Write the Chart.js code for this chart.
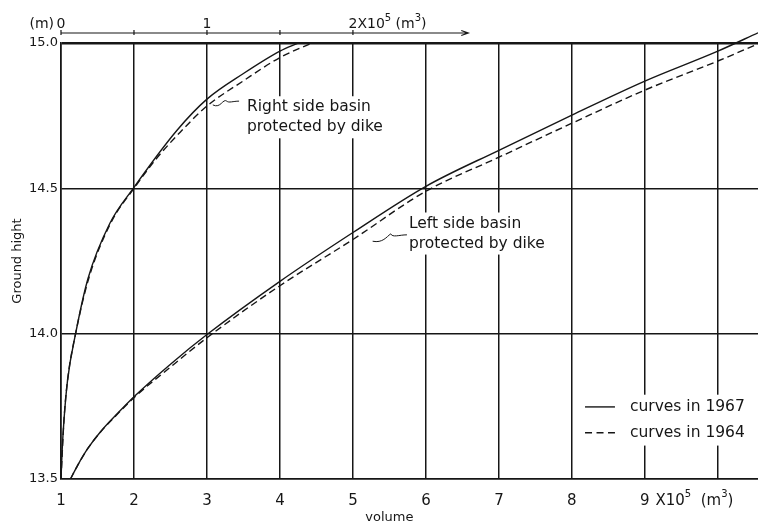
<!DOCTYPE html>
<html>
<head>
<meta charset="utf-8">
<script src="https://cdn.jsdelivr.net/npm/chart.js@4.4.1/dist/chart.umd.min.js"></script>
<style>
  html, body { margin: 0; padding: 0; background: #fff; }
</style>
</head>
<body>
<canvas id="chart" width="758" height="525"></canvas>
<script>
// bottom axis: volume (x10^5 m3), used by the left side basin
const xTickValues = [1, 2, 3, 4, 5, 6, 7, 8, 9, 10];
const xTickLabels = ['1', '2', '3', '4', '5', '6', '7', '8', '9', ''];
// ground height (m)
const yTickValues = [13.5, 14.0, 14.5, 15.0];
const yTickLabels = ['13.5', '14.0', '14.5', '15.0'];
// top axis: volume (x10^5 m3), used by the right side basin
const topTickValues = [0, 0.5, 1, 1.5, 2];
const topTickLabels = ['0', '', '1', '', '2'];

// left side basin, curves in 1967
const left1967Vol = [1.13, 1.23, 1.37, 1.55, 1.78, 2, 2.5, 3, 4, 5, 6, 7, 8, 9, 10, 10.55];
const left1967H   = [13.5, 13.548, 13.606, 13.665, 13.727, 13.783, 13.895, 13.997, 14.18, 14.348, 14.507, 14.631, 14.752, 14.869, 14.972, 15.035];
// left side basin, curves in 1964
const left1964Vol = [1.13, 1.23, 1.37, 1.55, 1.78, 2, 2.5, 3, 4, 5, 6, 7, 8, 9, 10, 10.55];
const left1964H   = [13.5, 13.548, 13.606, 13.664, 13.725, 13.78, 13.885, 13.986, 14.165, 14.324, 14.49, 14.607, 14.724, 14.838, 14.938, 14.997];
// right side basin, curves in 1967 (top axis)
const right1967Vol = [0, 0.008, 0.02, 0.045, 0.10, 0.185, 0.335, 0.495, 0.795, 1.0, 1.25, 1.5, 1.625];
const right1967H   = [13.5, 13.6, 13.7, 13.84, 14.0, 14.19, 14.38, 14.5, 14.70, 14.807, 14.895, 14.972, 15.0];
// right side basin, curves in 1964 (top axis)
const right1964Vol = [0, 0.02, 0.045, 0.10, 0.19, 0.34, 0.50, 0.65, 0.82, 1.0, 1.25, 1.5, 1.72];
const right1964H   = [13.5, 13.7, 13.84, 14.0, 14.19, 14.38, 14.5, 14.6, 14.695, 14.783, 14.87, 14.95, 15.0];

const legendLabels = ['curves in 1967', 'curves in 1964'];
const rightNote = ['Right side basin', 'protected by dike'];
const leftNote = ['Left side basin', 'protected by dike'];

const INK = '#161616';
const FONT = '"DejaVu Sans", sans-serif';

function pts(xs, ys) {
  return xs.map((x, i) => ({ x: x, y: ys[i] }));
}

// text with superscripts, parts = [[text, isSup], ...], left aligned
function drawParts(ctx, parts, x, y, size) {
  let cx = x;
  parts.forEach(([t, sup]) => {
    ctx.font = (sup ? Math.round(size * 0.68) : size) + 'px ' + FONT;
    ctx.fillText(t, cx, sup ? y - size * 0.42 : y);
    cx += ctx.measureText(t).width;
  });
}

function noteBox(ctx, lines, x, y1, y2, size) {
  ctx.font = size + 'px ' + FONT;
  const w = Math.max(...lines.map(l => ctx.measureText(l).width));
  ctx.fillRect(x - 4, y1 - 11, w + 8, y2 - y1 + 22);
}

const decor = {
  id: 'decor',
  // white patches behind the notes and legend, over the grid but under the curves
  beforeDatasetsDraw(chart) {
    const { ctx, scales } = chart;
    const x = scales.x, y = scales.y, xt = scales.xTop;
    ctx.save();
    ctx.fillStyle = '#fff';
    noteBox(ctx, rightNote, xt.getPixelForValue(1.274), y.getPixelForValue(14.779), y.getPixelForValue(14.71), 15.5);
    noteBox(ctx, leftNote, x.getPixelForValue(5.767), y.getPixelForValue(14.379), y.getPixelForValue(14.31), 15.5);
    const lx = x.getPixelForValue(8.12);
    const ly = y.getPixelForValue(13.79);
    ctx.fillRect(lx, ly, chart.width - lx, y.getPixelForValue(13.615) - ly);
    ctx.restore();
  },
  afterDraw(chart) {
    const { ctx, scales, chartArea } = chart;
    const x = scales.x, y = scales.y, xt = scales.xTop;
    ctx.save();
    ctx.fillStyle = INK;
    ctx.strokeStyle = INK;
    ctx.textBaseline = 'middle';

    // notes
    ctx.font = '15.5px ' + FONT;
    ctx.textAlign = 'left';
    const rx = xt.getPixelForValue(1.274);
    ctx.fillText(rightNote[0], rx, y.getPixelForValue(14.779));
    ctx.fillText(rightNote[1], rx, y.getPixelForValue(14.71));
    const lx = x.getPixelForValue(5.767);
    ctx.fillText(leftNote[0], lx, y.getPixelForValue(14.379));
    ctx.fillText(leftNote[1], lx, y.getPixelForValue(14.31));

    // leader squiggles
    ctx.lineWidth = 1;
    ctx.beginPath();
    let ax = xt.getPixelForValue(1.04), ay = y.getPixelForValue(14.787);
    let bx = xt.getPixelForValue(1.22), by = y.getPixelForValue(14.80);
    ctx.moveTo(ax, ay);
    ctx.bezierCurveTo(ax + 8, ay + 4, ax + 10, by - 3, ax + 14, by);
    ctx.bezierCurveTo(ax + 16, by + 2, bx - 6, by, bx, by);
    ax = x.getPixelForValue(5.27); ay = y.getPixelForValue(14.318);
    bx = x.getPixelForValue(5.74); by = y.getPixelForValue(14.34);
    ctx.moveTo(ax, ay);
    ctx.bezierCurveTo(ax + 10, ay + 2, ax + 14, by + 2, ax + 18, by - 1);
    ctx.bezierCurveTo(ax + 20, by + 3, bx - 8, by, bx, by);
    ctx.stroke();

    // legend
    const s0 = x.getPixelForValue(8.18), s1 = x.getPixelForValue(8.59), tx = x.getPixelForValue(8.795);
    const r0 = y.getPixelForValue(13.748), r1 = y.getPixelForValue(13.659);
    ctx.lineWidth = 1.4;
    ctx.beginPath(); ctx.moveTo(s0, r0); ctx.lineTo(s1, r0); ctx.stroke();
    ctx.setLineDash([7, 4.5]);
    ctx.beginPath(); ctx.moveTo(s0, r1); ctx.lineTo(s1, r1); ctx.stroke();
    ctx.setLineDash([]);
    ctx.font = '15.5px ' + FONT;
    ctx.fillText(legendLabels[0], tx, r0);
    ctx.fillText(legendLabels[1], tx, r1);

    // top axis for the right side basin
    const ty = chartArea.top - 10;
    const t0 = xt.getPixelForValue(0), tEnd = xt.getPixelForValue(2.79);
    ctx.lineWidth = 1.2;
    ctx.beginPath();
    ctx.moveTo(t0, ty); ctx.lineTo(tEnd, ty);
    ctx.moveTo(tEnd - 7, ty - 2.5); ctx.lineTo(tEnd, ty); ctx.lineTo(tEnd - 7, ty + 2.5);
    topTickValues.forEach(v => {
      const px = xt.getPixelForValue(v);
      ctx.moveTo(px, ty - 3); ctx.lineTo(px, ty + 2);
    });
    ctx.stroke();
    const labY = ty - 9;
    ctx.font = '14px ' + FONT;
    ctx.textAlign = 'center';
    topTickValues.forEach((v, i) => {
      if (topTickLabels[i] && v < 2) ctx.fillText(topTickLabels[i], xt.getPixelForValue(v), labY);
    });
    ctx.textAlign = 'right';
    ctx.fillText('(m)', t0 - 7, labY);
    ctx.textAlign = 'left';
    const two = xt.getPixelForValue(2);
    ctx.font = '14px ' + FONT;
    const w2 = ctx.measureText('2').width;
    drawParts(ctx, [['2', 0], ['X10', 0], ['5', 1], [' (m', 0], ['3', 1], [')', 0]], two - w2 / 2, labY, 14);

    // unit after the 9 tick label and the axis title
    const nine = x.getPixelForValue(9);
    ctx.font = '15px ' + FONT;
    const w9 = ctx.measureText('9').width;
    const ly9 = chartArea.bottom + 22;
    drawParts(ctx, [[' X10', 0], ['5', 1], ['  (m', 0], ['3', 1], [')', 0]], nine + w9 / 2 + 1, ly9, 15);
    ctx.font = '13px ' + FONT;
    ctx.textAlign = 'center';
    ctx.fillText('volume', x.getPixelForValue(5.5), chart.height - 7);
    ctx.restore();
  }
};

const lineStyle = { borderColor: INK, borderWidth: 1.4, pointRadius: 0, fill: false, cubicInterpolationMode: 'monotone' };

new Chart(document.getElementById('chart'), {
  type: 'line',
  data: {
    datasets: [
      Object.assign({ label: 'Left 1967', data: pts(left1967Vol, left1967H), xAxisID: 'x',
        clip: { left: 0, top: 12, right: 0, bottom: 0 } }, lineStyle),
      Object.assign({ label: 'Left 1964', data: pts(left1964Vol, left1964H), xAxisID: 'x', borderDash: [7, 4] }, lineStyle),
      Object.assign({ label: 'Right 1967', data: pts(right1967Vol, right1967H), xAxisID: 'xTop' }, lineStyle),
      Object.assign({ label: 'Right 1964', data: pts(right1964Vol, right1964H), xAxisID: 'xTop', borderDash: [7, 4] }, lineStyle)
    ]
  },
  options: {
    responsive: false,
    animation: false,
    events: [],
    layout: { padding: { top: 43, left: 0, right: 0, bottom: 0 } },
    plugins: { legend: { display: false }, tooltip: { enabled: false } },
    scales: {
      x: {
        type: 'linear', position: 'bottom', min: 1, max: 10.55,
        afterBuildTicks: s => { s.ticks = xTickValues.map(v => ({ value: v })); },
        afterFit: s => { s.height = 46; },
        ticks: {
          color: INK, padding: 13, maxRotation: 0, autoSkip: false,
          font: { family: 'DejaVu Sans', size: 15 },
          callback: (v) => xTickLabels[xTickValues.indexOf(v)] ?? ''
        },
        grid: { color: INK, lineWidth: 1.5, drawTicks: false },
        border: { color: INK, width: 1.6 }
      },
      xTop: {
        type: 'linear', display: false, min: 0, max: (10.55 - 1) / 2
      },
      y: {
        type: 'linear', min: 13.5, max: 15.0,
        afterBuildTicks: s => { s.ticks = yTickValues.map(v => ({ value: v })); },
        afterFit: s => { s.width = 61; },
        ticks: {
          color: INK, padding: 3,
          font: { family: 'DejaVu Sans', size: 13 },
          callback: (v) => yTickLabels[yTickValues.indexOf(v)] ?? ''
        },
        grid: { color: INK, lineWidth: c => (c.tick && c.tick.value === 15 ? 2.6 : 1.5), drawTicks: false },
        border: { color: INK, width: 1.6 },
        title: { display: true, text: 'Ground hight', color: INK, font: { family: 'DejaVu Sans', size: 13 }, padding: { top: 10, bottom: 0 } }
      }
    }
  },
  plugins: [decor]
});
</script>
</body>
</html>
